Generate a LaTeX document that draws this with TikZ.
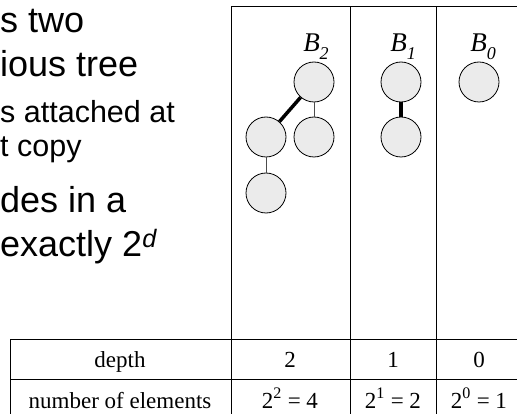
\documentclass[tikz,border=0pt]{standalone}
\usepackage{fontspec}
\setmainfont{Liberation Serif}
\setsansfont{Liberation Sans}
\newcommand{\sublab}[1]{\raisebox{-0.28em}{\fontsize{18}{18}\selectfont\itshape #1}}
\begin{document}
\begin{tikzpicture}[x=1pt,y=-1pt,
  nd/.style={circle,draw=black,line width=0.8pt,fill=black!8,minimum size=40pt,inner sep=0pt},
  grid/.style={line width=1pt,draw=black},
  thick edge/.style={line width=3.5pt},
  thin edge/.style={line width=0.8pt,draw=black!70},
  lab/.style={font=\fontsize{27}{29}\selectfont\itshape,inner sep=0pt,anchor=base},
  cell/.style={font=\fontsize{23}{26}\selectfont,inner sep=0pt,anchor=base},
  big/.style={font=\sffamily\fontsize{36}{38}\selectfont,inner sep=0pt,anchor=base west},
  small/.style={font=\sffamily\fontsize{30.5}{32}\selectfont,inner sep=0pt,anchor=base west}]
\useasboundingbox (0,0) rectangle (517,414);
% left text
\node[big] (t1) at (0,33) {s two};
\node[big] (t2) at (0,77) {ious tree};
\node[small] (t3) at (0,123) {s attached at};
\node[small] (t4) at (0,157) {t copy};
\node[big] (t5) at (0,213) {des in a};
\node[big] (t6) at (0,257) {exactly 2\textsuperscript{\itshape d}};
% frame
\draw[grid] (231,7) -- (520,7);
\draw[grid] (231,7) -- (231,420);
\draw[grid] (350,7) -- (350,420);
\draw[grid] (436,7) -- (436,420);
\draw[grid] (10,339) -- (520,339);
\draw[grid] (10,379) -- (520,379);
\draw[grid] (10,339) -- (10,420);
% labels
\node[lab] (lb2) at (316,52) {B\sublab{2}};
\node[lab] (lb1) at (403,52) {B\sublab{1}};
\node[lab] (lb0) at (483,52) {B\sublab{0}};
% trees
\node[nd] (a) at (314,82) {};
\node[nd] (b) at (266,137) {};
\node[nd] (c) at (314,137) {};
\node[nd] (d) at (266,193) {};
\node[nd] (e) at (401,82) {};
\node[nd] (f) at (401,137) {};
\node[nd] (g) at (479,82) {};
\draw[thick edge] (a) -- (b);
\draw[thin edge] (a) -- (c);
\draw[thin edge] (b) -- (d);
\draw[thick edge] (e) -- (f);
% table text
\node[cell] (c1) at (120,367) {depth};
\node[cell] (c2) at (120,408) {number of elements};
\node[cell] (c3) at (290,367) {2};
\node[cell] (c4) at (393,367) {1};
\node[cell] (c5) at (479,367) {0};
\node[cell] (c6) at (290,408) {2\textsuperscript{2} = 4};
\node[cell] (c7) at (393,408) {2\textsuperscript{1} = 2};
\node[cell] (c8) at (479,408) {2\textsuperscript{0} = 1};
\end{tikzpicture}
\end{document}
